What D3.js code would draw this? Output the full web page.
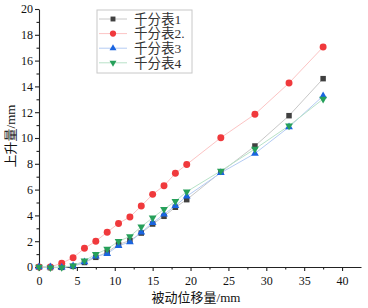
<!DOCTYPE html>
<html>
<head>
<meta charset="utf-8">
<script src="https://cdn.jsdelivr.net/npm/d3@7"></script>
<style>
  body { margin: 0; background: #fff; }
  text { font-family: "Liberation Serif", "Noto Sans CJK SC", serif; }
</style>
</head>
<body>
<div id="chart"></div>
<script>
// data
var xs = [0, 1.5, 3, 4.5, 6, 7.5, 9, 10.5, 12, 13.5, 15, 16.5, 18, 19.5, 24, 28.5, 33, 37.5];
var s1 = [0, -0.05, -0.03, 0.05, 0.35, 0.75, 1.15, 1.75, 2.05, 2.63, 3.33, 3.93, 4.63, 5.22, 7.35, 9.38, 11.73, 14.6];
var s2 = [0, 0, 0.3, 0.72, 1.45, 2.0, 2.7, 3.38, 3.88, 4.73, 5.63, 6.3, 7.26, 7.95, 10.02, 11.84, 14.26, 17.05];
var s3 = [0, 0, -0.03, 0.08, 0.39, 0.83, 1.03, 1.65, 1.94, 2.69, 3.43, 4.08, 4.75, 5.48, 7.3, 8.8, 10.85, 13.26];
var s4 = [0, -0.05, -0.03, 0.1, 0.49, 0.98, 1.4, 1.99, 2.37, 3.12, 3.82, 4.47, 5.1, 5.84, 7.45, 9.15, 10.95, 13.02];
var names = ["千分表1", "千分表2.", "千分表3", "千分表4"];
var xTicks = [0, 5, 10, 15, 20, 25, 30, 35, 40];
var yTicks = [0, 2, 4, 6, 8, 10, 12, 14, 16, 18, 20];

var series = [
  {name: names[0], vals: s1, color: "#404040", line: "#c8c8c8", shape: d3.symbolSquare, size: 30, rot: 0},
  {name: names[1], vals: s2, color: "#f0393c", line: "#fcc4c4", shape: d3.symbolCircle, size: 38, rot: 0},
  {name: names[2], vals: s3, color: "#1a64e0", line: "#b4cbf3", shape: d3.symbolTriangle, size: 26, rot: 0},
  {name: names[3], vals: s4, color: "#26a05a", line: "#b8e2c8", shape: d3.symbolTriangle, size: 26, rot: 180}
];

var W = 368, H = 308;
var svg = d3.select("#chart").append("svg")
    .attr("width", W).attr("height", H);

var x = d3.scaleLinear().domain([0, 42.5]).range([39, 361]);
var y = d3.scaleLinear().domain([0, 20]).range([267, 9]);

// axes
var xAxis = svg.append("g")
    .attr("transform", "translate(0," + y(0) + ")")
    .call(d3.axisBottom(x).tickValues(xTicks).tickSize(4).tickSizeOuter(0));
svg.append("g")
    .attr("transform", "translate(0," + y(0) + ")")
    .call(d3.axisBottom(x).tickValues(d3.range(2.5, 42.5, 5)).tickSize(2.5).tickFormat("").tickSizeOuter(0))
    .select(".domain").remove();

var yAxis = svg.append("g")
    .attr("transform", "translate(" + x(0) + ",0)")
    .call(d3.axisLeft(y).tickValues(yTicks).tickSize(4).tickSizeOuter(0));
svg.append("g")
    .attr("transform", "translate(" + x(0) + ",0)")
    .call(d3.axisLeft(y).tickValues(d3.range(1, 20, 2)).tickSize(2.5).tickFormat("").tickSizeOuter(0))
    .select(".domain").remove();

svg.selectAll(".domain, .tick line").attr("stroke", "#222").attr("stroke-width", 1.1);
svg.selectAll(".tick text")
    .style("font-family", "Liberation Serif")
    .style("font-size", "12px")
    .attr("fill", "#111");
xAxis.selectAll(".tick text").attr("dy", "0.95em");
yAxis.selectAll(".tick text").attr("x", -6);

// axis titles
svg.append("text")
    .attr("x", 196).attr("y", 302)
    .attr("text-anchor", "middle")
    .style("font-size", "13px")
    .attr("fill", "#111")
    .text("被动位移量/mm");
svg.append("text")
    .attr("transform", "translate(15,136) rotate(-90)")
    .attr("text-anchor", "middle")
    .style("font-size", "13px")
    .attr("fill", "#111")
    .text("上升量/mm");

// lines and markers
var line = d3.line()
    .x(function (d) { return x(d[0]); })
    .y(function (d) { return y(d[1]); });

series.forEach(function (s) {
  var pts = xs.map(function (v, i) { return [v, s.vals[i]]; });
  svg.append("path")
      .datum(pts)
      .attr("fill", "none")
      .attr("stroke", s.line)
      .attr("stroke-width", 1)
      .attr("d", line);
});

series.forEach(function (s) {
  var pts = xs.map(function (v, i) { return [v, s.vals[i]]; });
  svg.append("g").selectAll("path")
      .data(pts)
      .enter()
      .append("path")
      .attr("d", d3.symbol().type(s.shape).size(s.size))
      .attr("transform", function (d) {
        return "translate(" + x(d[0]) + "," + y(d[1]) + ") rotate(" + s.rot + ")";
      })
      .attr("fill", s.color);
});

// legend
var lg = svg.append("g").attr("transform", "translate(97,10)");
lg.append("rect")
    .attr("width", 95).attr("height", 63)
    .attr("fill", "#fff")
    .attr("stroke", "#c8c8c8");
series.forEach(function (s, i) {
  var yy = 9 + i * 14.6;
  lg.append("line")
      .attr("x1", 2).attr("x2", 30).attr("y1", yy).attr("y2", yy)
      .attr("stroke", s.line);
  lg.append("path")
      .attr("d", d3.symbol().type(s.shape).size(s.size * 0.8))
      .attr("transform", "translate(16," + yy + ") rotate(" + s.rot + ")")
      .attr("fill", s.color);
  lg.append("text")
      .attr("x", 37).attr("y", yy)
      .attr("dy", "0.36em")
      .style("font-size", "13.5px")
      .attr("fill", "#333")
      .text(s.name);
});
</script>
</body>
</html>
